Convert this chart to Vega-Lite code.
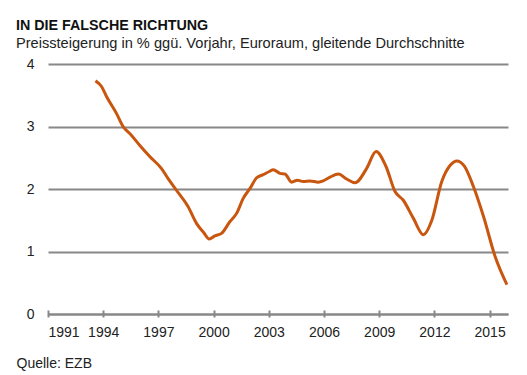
{
  "$schema": "https://vega.github.io/schema/vega-lite/v6.json",
  "width": 460,
  "height": 250,
  "autosize": "none",
  "padding": {"left": 48, "top": 64, "right": 19, "bottom": 61},
  "background": "white",
  "title": {
    "text": "IN DIE FALSCHE RICHTUNG",
    "subtitle": "Preissteigerung in % ggü. Vorjahr, Euroraum, gleitende Durchschnitte",
    "anchor": "start",
    "frame": "group",
    "dx": -32,
    "offset": 6,
    "font": "Liberation Sans",
    "fontSize": 14.3,
    "fontWeight": "bold",
    "color": "#111",
    "subtitleFont": "Liberation Sans",
    "subtitleFontSize": 14.6,
    "subtitleColor": "#222",
    "subtitlePadding": 3
  },
  "data": {
    "values": [
      {"year": 1993.58, "value": 3.73},
      {"year": 1993.91, "value": 3.64},
      {"year": 1994.18, "value": 3.48},
      {"year": 1994.72, "value": 3.21},
      {"year": 1995.08, "value": 3.0},
      {"year": 1995.53, "value": 2.86},
      {"year": 1995.98, "value": 2.7},
      {"year": 1996.53, "value": 2.52},
      {"year": 1997.16, "value": 2.33},
      {"year": 1997.52, "value": 2.17},
      {"year": 1997.98, "value": 1.98},
      {"year": 1998.61, "value": 1.72},
      {"year": 1999.07, "value": 1.45},
      {"year": 1999.47, "value": 1.3},
      {"year": 1999.76, "value": 1.2},
      {"year": 2000.07, "value": 1.25},
      {"year": 2000.43, "value": 1.29},
      {"year": 2000.89, "value": 1.48},
      {"year": 2001.25, "value": 1.61},
      {"year": 2001.61, "value": 1.85},
      {"year": 2001.98, "value": 2.01},
      {"year": 2002.34, "value": 2.18},
      {"year": 2002.7, "value": 2.23},
      {"year": 2003.03, "value": 2.28},
      {"year": 2003.24, "value": 2.31},
      {"year": 2003.61, "value": 2.25},
      {"year": 2003.88, "value": 2.24},
      {"year": 2004.24, "value": 2.11},
      {"year": 2004.55, "value": 2.14},
      {"year": 2004.88, "value": 2.12},
      {"year": 2005.24, "value": 2.13},
      {"year": 2005.69, "value": 2.11},
      {"year": 2005.96, "value": 2.13},
      {"year": 2006.33, "value": 2.19},
      {"year": 2006.78, "value": 2.24},
      {"year": 2007.23, "value": 2.16},
      {"year": 2007.69, "value": 2.1},
      {"year": 2008.32, "value": 2.33},
      {"year": 2008.83, "value": 2.6},
      {"year": 2009.37, "value": 2.36},
      {"year": 2009.86, "value": 1.96},
      {"year": 2010.31, "value": 1.82},
      {"year": 2010.86, "value": 1.53},
      {"year": 2011.4, "value": 1.27},
      {"year": 2011.86, "value": 1.5},
      {"year": 2012.4, "value": 2.12},
      {"year": 2012.86, "value": 2.38},
      {"year": 2013.22, "value": 2.45},
      {"year": 2013.62, "value": 2.37},
      {"year": 2014.12, "value": 2.04},
      {"year": 2014.67, "value": 1.56},
      {"year": 2015.3, "value": 0.92},
      {"year": 2015.94, "value": 0.47}
    ]
  },
  "layer": [
    {
      "mark": {"type": "line", "color": "#c8560f", "strokeWidth": 3, "interpolate": "monotone"},
      "encoding": {
        "x": {
          "field": "year",
          "type": "quantitative",
          "scale": {"domain": [1991, 2016], "nice": false, "zero": false},
          "axis": {
            "orient": "bottom",
            "values": [1991, 1994, 1997, 2000, 2003, 2006, 2009, 2012, 2015],
            "format": "d",
            "grid": false,
            "ticks": false,
            "tickSize": 0,
            "labelPadding": 11,
            "labelFont": "Liberation Sans",
            "labelFontSize": 14,
            "labelColor": "#222",
            "domainColor": "#888",
            "domainWidth": 2,
            "title": "Quelle: EZB",
            "titleX": -32,
            "titleY": 53,
            "titleAlign": "left",
            "titleAnchor": null,
            "titleBaseline": "alphabetic",
            "titleFont": "Liberation Sans",
            "titleFontSize": 14,
            "titleFontWeight": "normal",
            "titleColor": "#222"
          }
        },
        "y": {
          "field": "value",
          "type": "quantitative",
          "scale": {"domain": [0, 4], "nice": false},
          "axis": {
            "values": [0, 1, 2, 3, 4],
            "format": "d",
            "title": null,
            "domain": false,
            "ticks": false,
            "tickSize": 0,
            "labelPadding": 14,
            "labelFont": "Liberation Sans",
            "labelFontSize": 14,
            "labelColor": "#222",
            "gridColor": "#888",
            "gridWidth": 2,
            "gridOpacity": 1
          }
        }
      }
    },
    {
      "mark": {"type": "line", "strokeOpacity": 0},
      "encoding": {
        "x": {
          "field": "year",
          "type": "quantitative",
          "axis": {
            "orient": "bottom",
            "offset": 3,
            "values": [1991, 1994, 1997, 2000, 2003, 2006, 2009, 2012, 2015],
            "domain": false,
            "labels": false,
            "grid": false,
            "ticks": true,
            "tickSize": -7,
            "tickColor": "#888",
            "tickWidth": 2,
            "title": null
          }
        },
        "y": {"field": "value", "type": "quantitative"}
      }
    }
  ],
  "resolve": {"axis": {"x": "independent"}},
  "config": {"view": {"stroke": null}}
}
